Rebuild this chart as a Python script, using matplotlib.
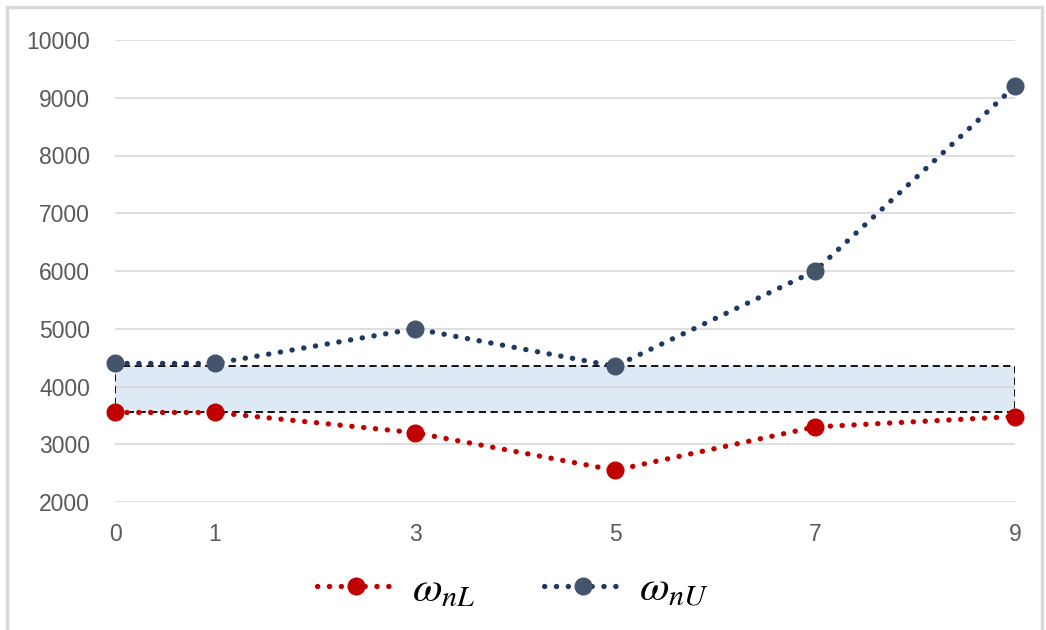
import matplotlib
matplotlib.use('Agg')

import numpy as np
import matplotlib.pyplot as plt
from matplotlib.patches import Rectangle

plt.rcParams['font.family'] = ['Liberation Sans', 'DejaVu Sans']
plt.rcParams['mathtext.fontset'] = 'stix'

# data
xvals = [0, 1, 3, 5, 7, 9]
w_nL = [3550, 3550, 3200, 2550, 3300, 3480]
w_nU = [4400, 4400, 5000, 4350, 6000, 9200]
yticks = [2000, 3000, 4000, 5000, 6000, 7000, 8000, 9000, 10000]

red = '#C00000'
navy = '#1F3864'
slate = '#44546A'

fig = plt.figure(figsize=(10.46, 6.30), dpi=100)
fig.patch.set_facecolor('white')
# light grey frame round the chart
fig.add_artist(Rectangle((7/1046, -0.01), 1035/1046, 1 - 7/630 + 0.01,
                         transform=fig.transFigure, fill=False,
                         edgecolor='#D9D9D9', lw=2.5))

ax = fig.add_axes([115/1046, 1 - 502/630, 900/1046, 462/630])
ax.set_xlim(0, 9)
ax.set_ylim(2000, 10000)
ax.set_xticks(xvals)
ax.set_yticks(yticks)
for s in ax.spines.values():
    s.set_visible(False)
ax.grid(axis='y', color='#D9D9D9', lw=1.2, zorder=0)
ax.tick_params(length=0, colors='#595959', labelsize=16.5)
ax.tick_params(axis='y', pad=18)
ax.tick_params(axis='x', pad=15)

# band between highest lower value and lowest upper value
lo, hi = max(w_nL), min(w_nU)
ax.add_patch(Rectangle((xvals[0], lo), xvals[-1] - xvals[0], hi - lo,
                       facecolor='#BDD7EE', alpha=0.5, edgecolor='none', zorder=1))
ax.add_patch(Rectangle((xvals[0], lo), xvals[-1] - xvals[0], hi - lo,
                       fill=False, edgecolor='black', lw=1.3,
                       linestyle=(0, (4, 2.5)), zorder=2))

dots = (0, (0.05, 2.2))
ax.plot(xvals, w_nL, color=red, lw=3.8, linestyle=dots, dash_capstyle='round',
        marker='o', ms=12, mfc=red, mec=red, zorder=3, clip_on=False,
        label=r'$\omega_{nL}$')
ax.plot(xvals, w_nU, color=navy, lw=3.8, linestyle=dots, dash_capstyle='round',
        marker='o', ms=12, mfc=slate, mec=slate, zorder=3, clip_on=False,
        label=r'$\omega_{nU}$')

fig.legend(loc='center', bbox_to_anchor=(0.49, 1 - 590/630), ncol=2,
           frameon=False, fontsize=31, handlelength=1.8, columnspacing=1.6,
           handletextpad=0.4)

fig.savefig('out.png', dpi=100)
